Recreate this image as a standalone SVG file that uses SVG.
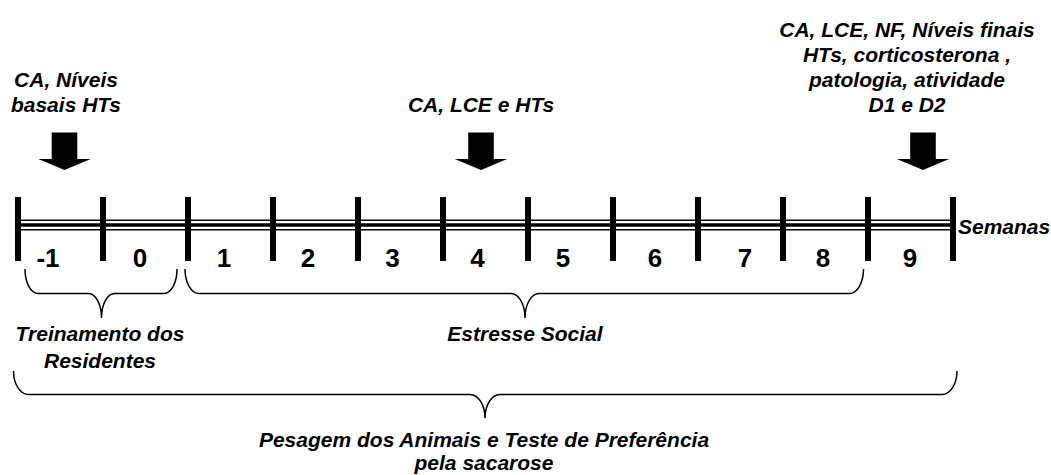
<svg xmlns="http://www.w3.org/2000/svg" width="1051" height="475" viewBox="0 0 1051 475">
<style>
.lbl{font-family:"Liberation Sans",Arial,sans-serif;font-weight:bold;font-style:italic;font-size:21px;fill:#000;text-anchor:middle}
.num{font-family:"Liberation Sans",Arial,sans-serif;font-weight:bold;font-size:26px;fill:#000;text-anchor:middle}
.tick{fill:#000}
.brace{fill:none;stroke:#000;stroke-width:1.5}
.arrow{fill:#000}
</style>
<defs>
<path id="blk" d="M-12.8,132.5 H12.8 V159 H26.2 L0,170 L-26.2,159 H-12.8 Z"/>
</defs>
<rect width="1051" height="475" fill="#fff"/>
<g id="timeline">
<line x1="18" y1="220.2" x2="953" y2="220.2" stroke="#000" stroke-width="1.5"/>
<line x1="18" y1="225" x2="953" y2="225" stroke="#000" stroke-width="3.5"/>
<line x1="18" y1="229.8" x2="953" y2="229.8" stroke="#000" stroke-width="1.5"/>
<rect class="tick" x="15" y="197" width="6" height="64"/>
<rect class="tick" x="100" y="197" width="6" height="64"/>
<rect class="tick" x="185" y="197" width="6" height="64"/>
<rect class="tick" x="270" y="197" width="6" height="64"/>
<rect class="tick" x="355" y="197" width="6" height="64"/>
<rect class="tick" x="440" y="197" width="6" height="64"/>
<rect class="tick" x="525" y="197" width="6" height="64"/>
<rect class="tick" x="610" y="197" width="6" height="64"/>
<rect class="tick" x="695" y="197" width="6" height="64"/>
<rect class="tick" x="780" y="197" width="6" height="64"/>
<rect class="tick" x="865" y="197" width="6" height="64"/>
<rect class="tick" x="950" y="197" width="6" height="64"/>
<text class="num" x="48" y="267">-1</text>
<text class="num" x="140" y="267">0</text>
<text class="num" x="224" y="267">1</text>
<text class="num" x="308" y="267">2</text>
<text class="num" x="392.5" y="267">3</text>
<text class="num" x="477.5" y="267">4</text>
<text class="num" x="563" y="267">5</text>
<text class="num" x="655" y="267">6</text>
<text class="num" x="745" y="267">7</text>
<text class="num" x="823" y="267">8</text>
<text class="num" x="910" y="267">9</text>
<text class="lbl" x="958" y="234" style="text-anchor:start">Semanas</text>
</g>
<g id="event-basal">
<text class="lbl" x="66" y="87">CA, Níveis</text>
<text class="lbl" x="66" y="112">basais HTs</text>
</g>
<g id="event-week4">
<text class="lbl" x="481" y="112">CA, LCE e HTs</text>
</g>
<g id="event-final">
<text class="lbl" x="907" y="37">CA, LCE, NF, Níveis finais</text>
<text class="lbl" x="907" y="62">HTs, corticosterona ,</text>
<text class="lbl" x="907" y="87">patologia, atividade</text>
<text class="lbl" x="907" y="112">D1 e D2</text>
</g>
<g id="phase-training">
<text class="lbl" x="100" y="341">Treinamento dos</text>
<text class="lbl" x="100" y="368">Residentes</text>
</g>
<g id="phase-stress">
<text class="lbl" x="525" y="341">Estresse Social</text>
</g>
<g id="phase-all">
<text class="lbl" x="484" y="447">Pesagem dos Animais e Teste de Preferência</text>
<text class="lbl" x="484" y="470">pela sacarose</text>
</g>
<g id="connectors">
<use href="#blk" class="arrow" transform="translate(64.5,0)"/>
<use href="#blk" class="arrow" transform="translate(481,0)"/>
<use href="#blk" class="arrow" transform="translate(923,0)"/>
<path class="brace" d="M25,269 A13,24.5 0 0 0 38,293.5 H88.5 A13,24.5 0 0 1 101.5,318 A13,24.5 0 0 1 114.5,293.5 H164 A13,24.5 0 0 0 177,269"/>
<path class="brace" d="M185,269 A14,24.5 0 0 0 199,293.5 H511 A14,24.5 0 0 1 525,318 A14,24.5 0 0 1 539,293.5 H849.5 A14,24.5 0 0 0 863.5,269"/>
<path class="brace" d="M13.5,371 A15,23.5 0 0 0 28.5,394.5 H470 A15,23.5 0 0 1 485,418 A15,23.5 0 0 1 500,394.5 H942 A15,23.5 0 0 0 957,371"/>
</g>
</svg>
